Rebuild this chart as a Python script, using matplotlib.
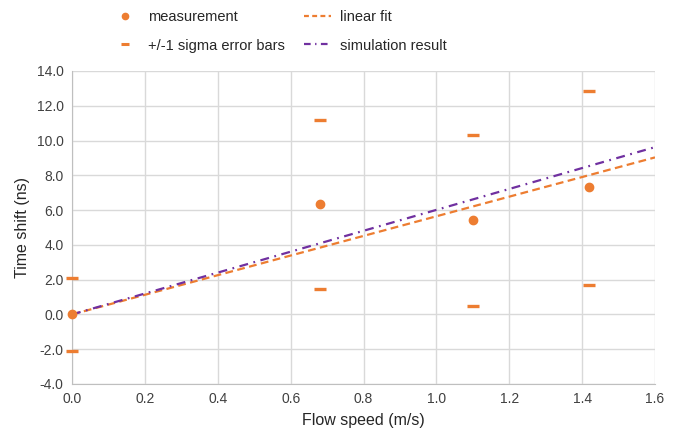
import matplotlib
matplotlib.use('Agg')
import matplotlib.pyplot as plt
from matplotlib.lines import Line2D
import numpy as np

flow_speed = [0.0, 0.68, 1.10, 1.42]
time_shift = [0.0, 6.35, 5.43, 7.33]
err_upper = [2.1, 11.17, 10.32, 12.87]
err_lower = [-2.1, 1.46, 0.49, 1.69]

# fitted / simulated lines
line_x = [0.0, 1.6]
fit_y = [0.0, 9.03]
sim_y = [0.0, 9.62]

orange = '#ED7D31'
purple = '#7030A0'

plt.rcParams['font.family'] = ['Liberation Sans', 'DejaVu Sans']
plt.rcParams['font.size'] = 10

fig = plt.figure(figsize=(6.77, 4.36), dpi=100)
ax = fig.add_axes([0.1064, 0.1193, 0.8611, 0.7179])

ax.plot(line_x, fit_y, color=orange, lw=1.6, dashes=(3.5, 2.0), zorder=3)
ax.plot(line_x, sim_y, color=purple, lw=1.6, dashes=(4.0, 2.5, 0.8, 2.5), zorder=3)
ax.plot(flow_speed, time_shift, 'o', color=orange, ms=6, zorder=4, clip_on=False)
ax.plot(flow_speed + flow_speed, err_upper + err_lower, '_', color=orange, ms=9, mew=2.4,
        zorder=4, clip_on=False)

ax.set_xlim(0, 1.6)
ax.set_ylim(-4, 14)
ax.set_xticks(np.arange(0, 1.61, 0.2))
ax.set_yticks(np.arange(-4, 14.1, 2))
ax.xaxis.set_major_formatter(matplotlib.ticker.FormatStrFormatter('%.1f'))
ax.yaxis.set_major_formatter(matplotlib.ticker.FormatStrFormatter('%.1f'))
ax.tick_params(length=0, labelsize=10, colors='#404040', pad=6)
ax.grid(True, color='#d9d9d9', lw=1)
ax.set_axisbelow(True)
for s in ['top', 'right']:
    ax.spines[s].set_visible(False)
for s in ['left', 'bottom']:
    ax.spines[s].set_color('#bfbfbf')

ax.set_xlabel('Flow speed (m/s)', fontsize=11.5, color='#262626', labelpad=5)
ax.set_ylabel('Time shift (ns)', fontsize=11.5, color='#262626', labelpad=5)

# legend proxies (smaller markers, like the original)
handles = [
    Line2D([], [], ls='none', marker='o', color=orange, ms=4.5),
    Line2D([], [], ls='none', marker='_', color=orange, ms=6, mew=2.2),
    Line2D([], [], color=orange, lw=1.6, dashes=(2.2, 1.5)),
    Line2D([], [], color=purple, lw=1.6, dashes=(3.0, 2.0, 0.6, 2.0)),
]
labels = ['measurement', '+/-1 sigma error bars', 'linear fit', 'simulation result']
fig.legend(handles, labels, ncol=2, frameon=False,
           loc='upper left', bbox_to_anchor=(111.5 / 677, 1 - 10 / 436),
           borderaxespad=0, borderpad=0, fontsize=10.5,
           labelspacing=1.0, columnspacing=1.3, handlelength=1.85, handletextpad=0.65,
           labelcolor='#262626')

fig.savefig('out.png', dpi=100)
